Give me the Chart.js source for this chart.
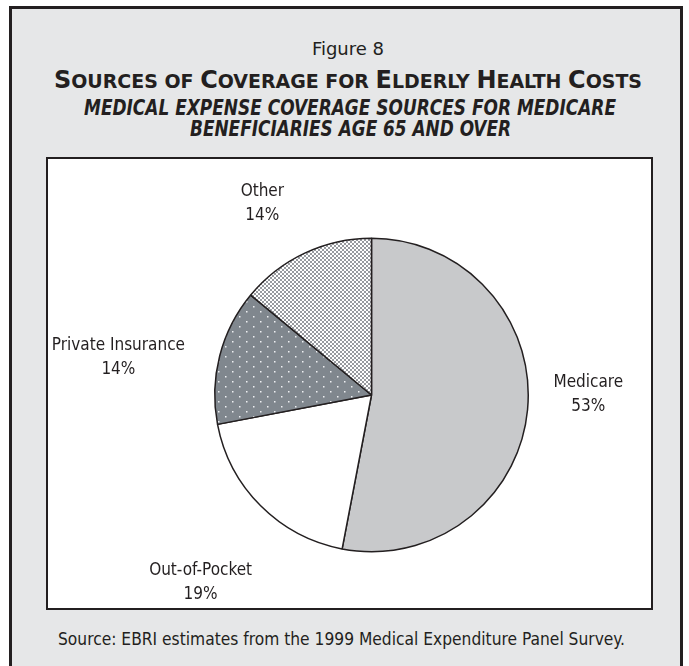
<!DOCTYPE html>
<html>
<head>
<meta charset="utf-8">
<script src="https://cdn.jsdelivr.net/npm/chart.js@4"></script>
<style>
  html, body { margin: 0; padding: 0; background: #ffffff; }
  body { width: 689px; height: 666px; overflow: hidden; position: relative; font-family: "DejaVu Sans Condensed", "DejaVu Sans", sans-serif; color: #231f20; }
  #frame { position: absolute; left: 9px; top: 6px; width: 668px; height: 700px; background: #e6e7e8; border: 3px solid #231f20; }
  .t { position: absolute; white-space: nowrap; display: inline-block; transform-origin: 0 0; line-height: 1; }
  #fig { top: 40px; font-size: 18px; }
  #title { top: 68px; font-size: 19px; font-weight: bold; }
  #title .g { font-size: 24px; }
  #sub1 { top: 98px; font-size: 21px; font-weight: bold; font-style: italic; }
  #sub2 { top: 119px; font-size: 21px; font-weight: bold; font-style: italic; }
  #box { position: absolute; left: 46px; top: 157px; width: 603px; height: 449px; background: #fff; border: 2px solid #231f20; }
  #src { top: 630px; font-size: 18px; }
</style>
</head>
<body>
<div id="frame"></div>
<div class="t" id="fig">Figure 8</div>
<div class="t" id="title"><span class="g">S</span>OURCES OF <span class="g">C</span>OVERAGE FOR <span class="g">E</span>LDERLY <span class="g">H</span>EALTH <span class="g">C</span>OSTS</div>
<div class="t" id="sub1">MEDICAL EXPENSE COVERAGE SOURCES FOR MEDICARE</div>
<div class="t" id="sub2">BENEFICIARIES AGE 65 AND OVER</div>
<div id="box"><canvas id="GraficoTorta" width="603" height="449"></canvas></div>
<div class="t" id="src">Source: EBRI estimates from the 1999 Medical Expenditure Panel Survey.</div>

<script>
// datos del grafico
var categorias = ['Medicare', 'Out-of-Pocket', 'Private Insurance', 'Other'];
var valores = [53, 19, 14, 14];
var etiquetas = ['53%', '19%', '14%', '14%'];

// ajustar textos al ancho del original (centro x, ancho)
function ajustarTexto(id, centro, ancho) {
  var el = document.getElementById(id);
  var w = el.getBoundingClientRect().width;
  var k = ancho / w;
  el.style.left = (centro - ancho / 2) + 'px';
  el.style.transform = 'scaleX(' + k + ')';
}
ajustarTexto('fig', 348, 72);
ajustarTexto('title', 348, 588);
ajustarTexto('sub1', 350, 532);
ajustarTexto('sub2', 350, 321);
ajustarTexto('src', 341, 567);

// tramas de relleno
function tramaCuadros() {
  var c = document.createElement('canvas');
  c.width = 4; c.height = 4;
  var g = c.getContext('2d');
  g.fillStyle = '#ffffff';
  g.fillRect(0, 0, 4, 4);
  g.fillStyle = '#979a9f';
  g.fillRect(0, 0, 2, 2);
  g.fillRect(2, 2, 2, 2);
  return g.createPattern(c, 'repeat');
}
function tramaPuntos() {
  var c = document.createElement('canvas');
  c.width = 14; c.height = 10;
  var g = c.getContext('2d');
  g.fillStyle = '#80878e';
  g.fillRect(0, 0, 14, 10);
  g.fillStyle = '#eef0f2';
  g.fillRect(2, 2, 1.5, 1.5);
  g.fillRect(9, 7, 1.5, 1.5);
  return g.createPattern(c, 'repeat');
}

var ctx = document.getElementById('GraficoTorta').getContext('2d');

// distancia extra y ajuste de cada etiqueta
var separacion = [61, 109, 118, 55];
var ajuste = [[0, -21], [17, 0], [13, 31], [-19, 0]];

var etiquetasTorta = {
  id: 'etiquetasTorta',
  afterDraw: function (chart) {
    var c = chart.ctx;
    var meta = chart.getDatasetMeta(0);
    c.save();
    c.font = '17px "DejaVu Sans Condensed", "DejaVu Sans", sans-serif';
    c.fillStyle = '#231f20';
    c.textAlign = 'center';
    c.textBaseline = 'middle';
    meta.data.forEach(function (arc, i) {
      var p = arc.getProps(['x', 'y', 'startAngle', 'endAngle', 'outerRadius'], true);
      var mid = (p.startAngle + p.endAngle) / 2;
      var r = p.outerRadius + separacion[i];
      var x = p.x + Math.cos(mid) * r + ajuste[i][0];
      var y = p.y + Math.sin(mid) * r + ajuste[i][1];
      c.fillText(categorias[i], x, y - 12);
      c.fillText(etiquetas[i], x, y + 12);
    });
    c.restore();
  }
};

var data1 = {
  labels: categorias,
  datasets: [{
    data: valores,
    backgroundColor: ['#c8c9cb', '#ffffff', tramaPuntos(), tramaCuadros()],
    borderColor: '#231f20',
    borderWidth: 1.5
  }]
};

var GraficoTorta = new Chart(ctx, {
  type: 'pie',
  data: data1,
  options: {
    responsive: false,
    animation: false,
    layout: { padding: { left: 166, right: 122, top: 78, bottom: 55 } },
    plugins: {
      legend: { display: false },
      tooltip: { enabled: false }
    }
  },
  plugins: [etiquetasTorta]
});
</script>
</body>
</html>
